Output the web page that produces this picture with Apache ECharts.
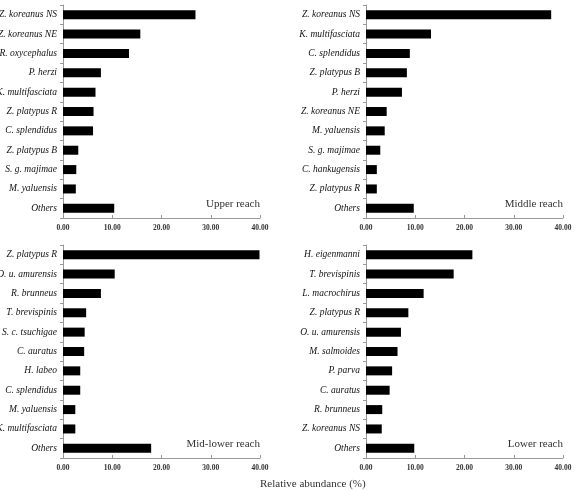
<!DOCTYPE html>
<html>
<head>
<meta charset="utf-8">
<script src="https://cdn.jsdelivr.net/npm/echarts@6/dist/echarts.min.js"></script>
<style>
  html, body { margin: 0; padding: 0; background: #fff; }
  #main { width: 576px; height: 490px; }
</style>
</head>
<body>
<div id="main"></div>
<script>
// species per reach (top to bottom) and relative abundance (%)
var upperNames = ['Z. koreanus NS', 'Z. koreanus NE', 'R. oxycephalus', 'P. herzi', 'K. multifasciata',
  'Z. platypus R', 'C. splendidus', 'Z. platypus B', 'S. g. majimae', 'M. yaluensis', 'Others'];
var upperValues = [26.9, 15.7, 13.4, 7.7, 6.6, 6.2, 6.1, 3.1, 2.7, 2.6, 10.4];

var middleNames = ['Z. koreanus NS', 'K. multifasciata', 'C. splendidus', 'Z. platypus B', 'P. herzi',
  'Z. koreanus NE', 'M. yaluensis', 'S. g. majimae', 'C. hankugensis', 'Z. platypus R', 'Others'];
var middleValues = [37.6, 13.2, 8.9, 8.3, 7.3, 4.2, 3.8, 2.9, 2.2, 2.2, 9.7];

var midLowerNames = ['Z. platypus R', 'O. u. amurensis', 'R. brunneus', 'T. brevispinis', 'S. c. tsuchigae',
  'C. auratus', 'H. labeo', 'C. splendidus', 'M. yaluensis', 'K. multifasciata', 'Others'];
var midLowerValues = [39.9, 10.5, 7.7, 4.7, 4.4, 4.3, 3.5, 3.5, 2.5, 2.5, 17.9];

var lowerNames = ['H. eigenmanni', 'T. brevispinis', 'L. macrochirus', 'Z. platypus R', 'O. u. amurensis',
  'M. salmoides', 'P. parva', 'C. auratus', 'R. brunneus', 'Z. koreanus NS', 'Others'];
var lowerValues = [21.6, 17.8, 11.7, 8.6, 7.1, 6.4, 5.3, 4.8, 3.3, 3.2, 9.8];

var xTicks = [0, 10, 20, 30, 40];

var panels = [
  {names: upperNames, values: upperValues, label: 'Upper reach'},
  {names: middleNames, values: middleValues, label: 'Middle reach'},
  {names: midLowerNames, values: midLowerValues, label: 'Mid-lower reach'},
  {names: lowerNames, values: lowerValues, label: 'Lower reach'}
];

var serif = '"Liberation Serif", "DejaVu Serif", serif';
var grids = [
  {left: 63, top: 5, width: 197, height: 213},
  {left: 366, top: 5, width: 197, height: 213},
  {left: 63, top: 245, width: 197, height: 213},
  {left: 366, top: 245, width: 197, height: 213}
];
// keep the plot boxes fixed, let long names run off the left edge like the original
grids.forEach(function (g) {
  g.containLabel = false;
  g.outerBoundsMode = 'none';
});

var xAxes = [], yAxes = [], series = [], graphics = [];
panels.forEach(function (p, i) {
  xAxes.push({
    gridIndex: i,
    type: 'value',
    min: xTicks[0],
    max: xTicks[xTicks.length - 1],
    interval: xTicks[1] - xTicks[0],
    splitLine: {show: false},
    axisLine: {show: true, lineStyle: {color: '#999', width: 1}},
    axisTick: {show: true, inside: true, length: 3, lineStyle: {color: '#999'}},
    axisLabel: {
      margin: 6, fontSize: 7.5, fontWeight: 'bold', fontFamily: serif, color: '#333',
      formatter: function (v) { return v.toFixed(2); }
    }
  });
  yAxes.push({
    gridIndex: i,
    type: 'category',
    inverse: true,
    data: p.names,
    axisLine: {show: true, lineStyle: {color: '#999', width: 1}},
    axisTick: {show: true, length: 3, lineStyle: {color: '#999'}},
    axisLabel: {margin: 6, fontSize: 9.5, fontStyle: 'italic', fontFamily: serif, color: '#111'}
  });
  series.push({
    type: 'bar',
    xAxisIndex: i,
    yAxisIndex: i,
    data: p.values,
    barWidth: 9,
    itemStyle: {color: '#000'},
    silent: true
  });
  var g = grids[i];
  graphics.push({
    type: 'text',
    right: 576 - (g.left + g.width),
    top: g.top + g.height - 19,
    style: {text: p.label, font: '11px ' + serif, fill: '#333'}
  });
});

graphics.push({
  type: 'text',
  left: 260,
  top: 479,
  style: {text: 'Relative abundance (%)', font: '11px ' + serif, fill: '#333'}
});

var chart = echarts.init(document.getElementById('main'));
chart.setOption({
  animation: false,
  backgroundColor: '#fff',
  grid: grids,
  xAxis: xAxes,
  yAxis: yAxes,
  series: series,
  graphic: graphics
});
</script>
</body>
</html>
